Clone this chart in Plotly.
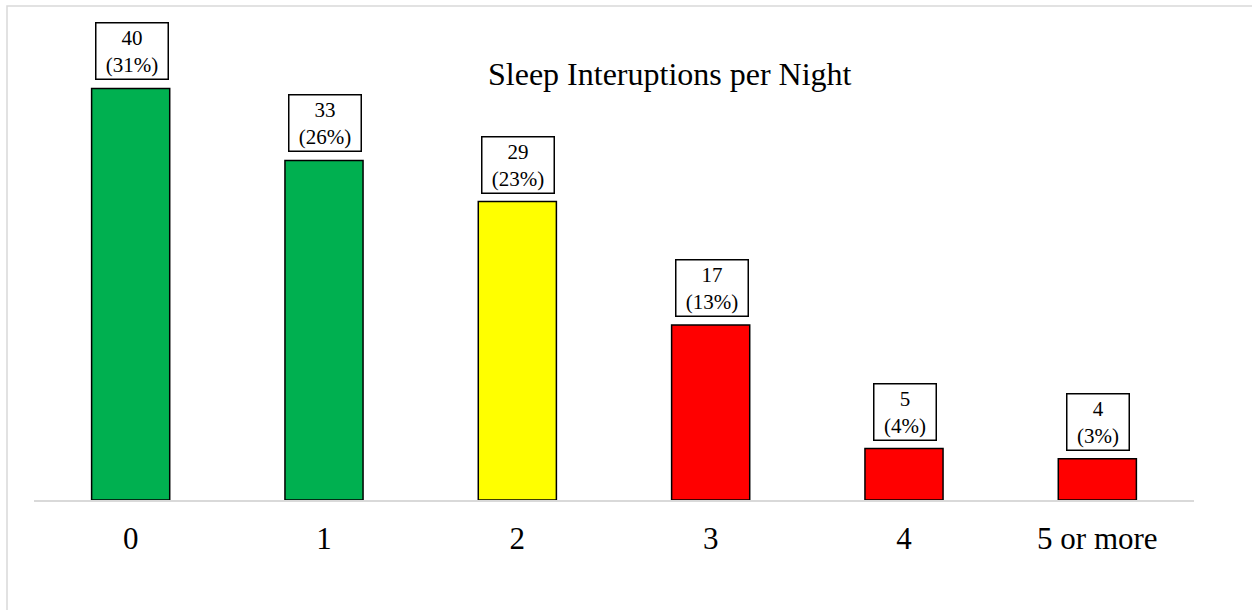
import plotly.graph_objects as go

# Sleep interruption counts per night
categories = ["0", "1", "2", "3", "4", "5 or more"]
counts = [40, 33, 29, 17, 5, 4]
percent_labels = ["31%", "26%", "23%", "13%", "4%", "3%"]
bar_colors = ["#00B050", "#00B050", "#FFFF00", "#FF0000", "#FF0000", "#FF0000"]

SERIF = "Liberation Serif, Times New Roman, serif"

# plot-area geometry in pixels (used to place the title and frame)
W, H = 1252, 610
ML, MR, MT, MB = 34, 58, 37, 110
PW = W - ML - MR
PH = H - MT - MB


def px_to_paper_x(px):
    return (px - ML) / PW


def px_to_paper_y(py):
    return (H - MB - py) / PH


fig = go.Figure(
    go.Bar(
        x=categories,
        y=counts,
        marker=dict(color=bar_colors, line=dict(color="#000000", width=1.5)),
        width=0.404,
        hoverinfo="skip",
    )
)

# value + share boxes above each bar
for cat, n, pct in zip(categories, counts, percent_labels):
    label = f"({pct})"
    fig.add_annotation(
        x=cat,
        y=n,
        xref="x",
        yref="y",
        text=f"{n}<br>{label}",
        showarrow=False,
        yanchor="bottom",
        yshift=8,
        xshift=1,
        width=10 * len(label) + 17,
        align="center",
        font=dict(family=SERIF, size=21, color="#000000"),
        bgcolor="#FFFFFF",
        bordercolor="#000000",
        borderwidth=1.5,
        borderpad=2,
    )

# chart title
fig.add_annotation(
    x=px_to_paper_x(670),
    y=px_to_paper_y(74),
    xref="paper",
    yref="paper",
    text="Sleep Interuptions per Night",
    showarrow=False,
    xanchor="center",
    yanchor="middle",
    font=dict(family=SERIF, size=32, color="#000000"),
)

# light outer frame of the chart
fig.add_shape(
    type="rect",
    xref="paper",
    yref="paper",
    x0=px_to_paper_x(7),
    x1=px_to_paper_x(1270),
    y0=px_to_paper_y(640),
    y1=px_to_paper_y(6),
    line=dict(color="#D9D9D9", width=1.5),
    fillcolor="rgba(0,0,0,0)",
    layer="below",
)

fig.update_layout(
    width=W,
    height=H,
    margin=dict(l=ML, r=MR, t=MT, b=MB),
    paper_bgcolor="#FFFFFF",
    plot_bgcolor="#FFFFFF",
    showlegend=False,
    xaxis=dict(
        showline=True,
        linecolor="#D9D9D9",
        linewidth=1.5,
        showgrid=False,
        ticks="",
        tickfont=dict(family=SERIF, size=31, color="#000000"),
        ticklabelstandoff=10,
        fixedrange=True,
    ),
    yaxis=dict(
        range=[0, 45],
        visible=False,
        showgrid=False,
        zeroline=False,
        fixedrange=True,
    ),
)

fig.write_html("out.html", config={"displayModeBar": False})
